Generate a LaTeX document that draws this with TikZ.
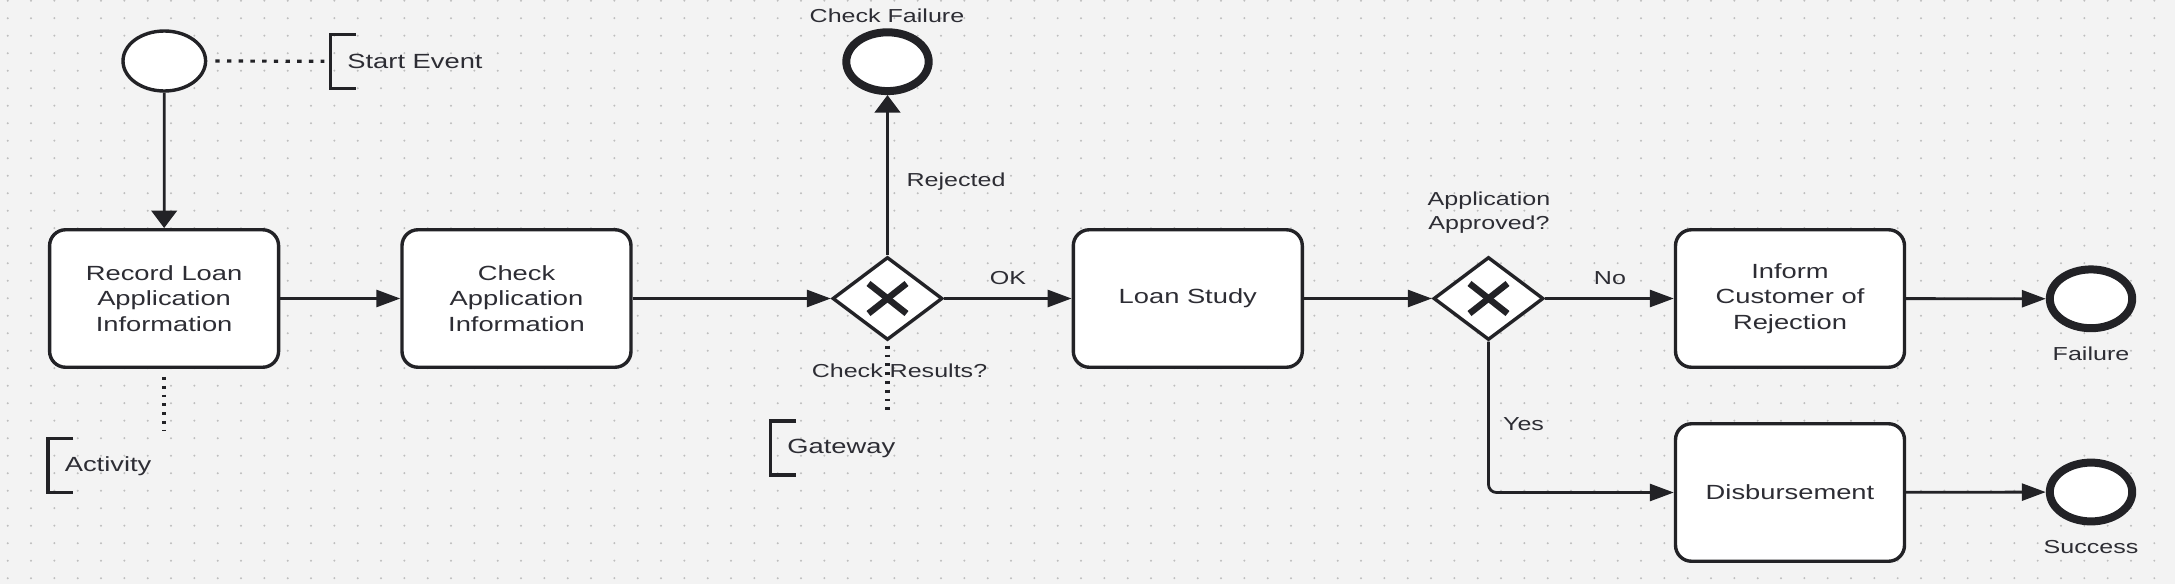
\documentclass[tikz,border=0pt]{standalone}
\usepackage{fontspec}
\setmainfont{Liberation Sans}[FakeStretch=1.333]
\usetikzlibrary{shapes.geometric,arrows.meta}
\definecolor{bg}{RGB}{243,243,243}
\definecolor{dotc}{RGB}{190,190,190}
\definecolor{ink}{RGB}{34,34,38}
\definecolor{txt}{RGB}{45,45,52}
\newcommand\myBig{\fontsize{10.25}{12.75}\selectfont}
\newcommand\mySmall{\fontsize{9.4}{12}\selectfont}
\tikzset{
  task/.style={draw=ink, fill=white, line width=1.7pt, rounded corners=8pt,
    minimum width=114.5pt, minimum height=68.75pt, align=center,
    text=txt, font=\myBig, inner sep=0pt},
  startev/.style={ellipse, draw=ink, fill=white, line width=1.7pt,
    minimum width=41.3pt, minimum height=30pt, inner sep=0pt},
  endev/.style={ellipse, draw=ink, fill=white, line width=4pt,
    minimum width=41.2pt, minimum height=29.4pt, inner sep=0pt},
  gate/.style={diamond, draw=ink, fill=white, line width=1.7pt, aspect=1.33,
    minimum width=55pt, minimum height=41.5pt, inner sep=0pt},
  xmark/.style={draw=ink, line width=3.2pt},
  flow/.style={draw=ink, line width=1.4pt, -{Triangle[length=12pt,width=8.5pt]}},
  vflow/.style={draw=ink, line width=1.4pt, -{Triangle[length=8.75pt,width=12.75pt]}},
  hdot/.style={draw=ink, line width=1.6pt, dash pattern=on 2.2pt off 3.65pt},
  vdot/.style={draw=ink, line width=2.2pt, dash pattern=on 1.4pt off 3pt},
  annot/.style={minimum height=27pt, inner xsep=8.5pt, inner ysep=0pt, outer sep=0pt,
    text=txt, font=\myBig, anchor=west},
  brk/.style={draw=ink, line width=1.7pt},
  lbl/.style={text=txt, font=\mySmall, inner sep=0pt, text height=6.8pt, text depth=0pt},
  lbl2/.style={text=txt, font=\mySmall, inner sep=0pt, align=center},
}
\begin{document}
\begin{tikzpicture}[x=0.5pt,y=-0.5pt]
% background and dot grid
\fill[bg] (0,0) rectangle (2175,584);
\useasboundingbox (0,0) rectangle (2175,584);
\foreach \i in {0,...,93}{
  \foreach \j in {0,...,33}{
    \fill[dotc] (7.7+23.333*\i, 0.7+17.5*\j) circle[radius=0.55pt];
  }
}
% nodes
\node[startev] (start) at (164.3,61) {};
\node[task] (t1) at (164.1,298.5) {Record Loan\\Application\\Information};
\node[task] (t2) at (516.5,298.5) {Check\\Application\\Information};
\node[gate] (gw1) at (887.5,298.5) {};
\node[endev] (cf) at (887.5,61.7) {};
\node[task] (loan) at (1187.8,298.5) {Loan Study};
\node[gate] (gw2) at (1488.5,298.5) {};
\node[task] (inf) at (1790,298.5) {Inform\\Customer of\\Rejection};
\node[task] (dis) at (1790,492.5) {Disbursement};
\node[endev] (fail) at (2091,298.8) {};
\node[endev] (succ) at (2091,492) {};
% gateway marks
\foreach \g in {gw1,gw2}{
  \draw[xmark] ([shift={(-19,-15)}]\g.center) -- ([shift={(19,15)}]\g.center);
  \draw[xmark] ([shift={(-19,15)}]\g.center) -- ([shift={(19,-15)}]\g.center);
}
% annotations
\node[annot] (sa) at (330.4,61.3) {Start Event};
\node[annot] (aa) at (47.8,465.7) {Activity};
\node[annot] (ga) at (770.4,448) {Gateway};
\foreach \a in {sa,aa,ga}{
  \draw[brk] ([xshift=12.8pt]\a.north west) -- (\a.north west) -- (\a.south west) -- ([xshift=12.8pt]\a.south west);
}
\draw[hdot, shorten <=4pt, shorten >=3pt] (start.east) -- (sa.west);
\draw[vdot, shorten <=4pt, shorten >=4pt] (t1.south) -- (t1.south |- aa.north);
\draw[vdot, shorten <=2pt, shorten >=3pt] (gw1.south) -- (gw1.south |- ga.north);
% labels
\node[lbl] (lcf) at (887,16) {Check Failure};
\node[lbl] (lrej) at (956,180) {Rejected};
\node[lbl] (lok) at (1008,277.7) {OK};
\node[lbl] (lcr) at (899.5,370.7) {Check Results?};
\node[lbl2] (lap) at (1489,213) {Application\\Approved?};
\node[lbl] (lno) at (1610,277.7) {No};
\node[lbl] (lyes) at (1523.5,424) {Yes};
\node[lbl] (lfail) at (2091,354) {Failure};
\node[lbl] (lsucc) at (2091,546.7) {Success};
% flows
\draw[vflow] (start) -- (t1);
\draw[flow] (t1) -- (t2);
\draw[flow] (t2) -- (gw1);
\draw[vflow] (gw1) -- (cf);
\draw[flow] (gw1) -- (loan);
\draw[flow] (loan) -- (gw2);
\draw[flow] (gw2) -- (inf);
\draw[flow] (inf) -- (fail);
\draw[flow, rounded corners=4pt] (gw2.south) -- (gw2.south |- dis.west) -- (dis.west);
\draw[flow] (dis) -- (succ);
\end{tikzpicture}
\end{document}
